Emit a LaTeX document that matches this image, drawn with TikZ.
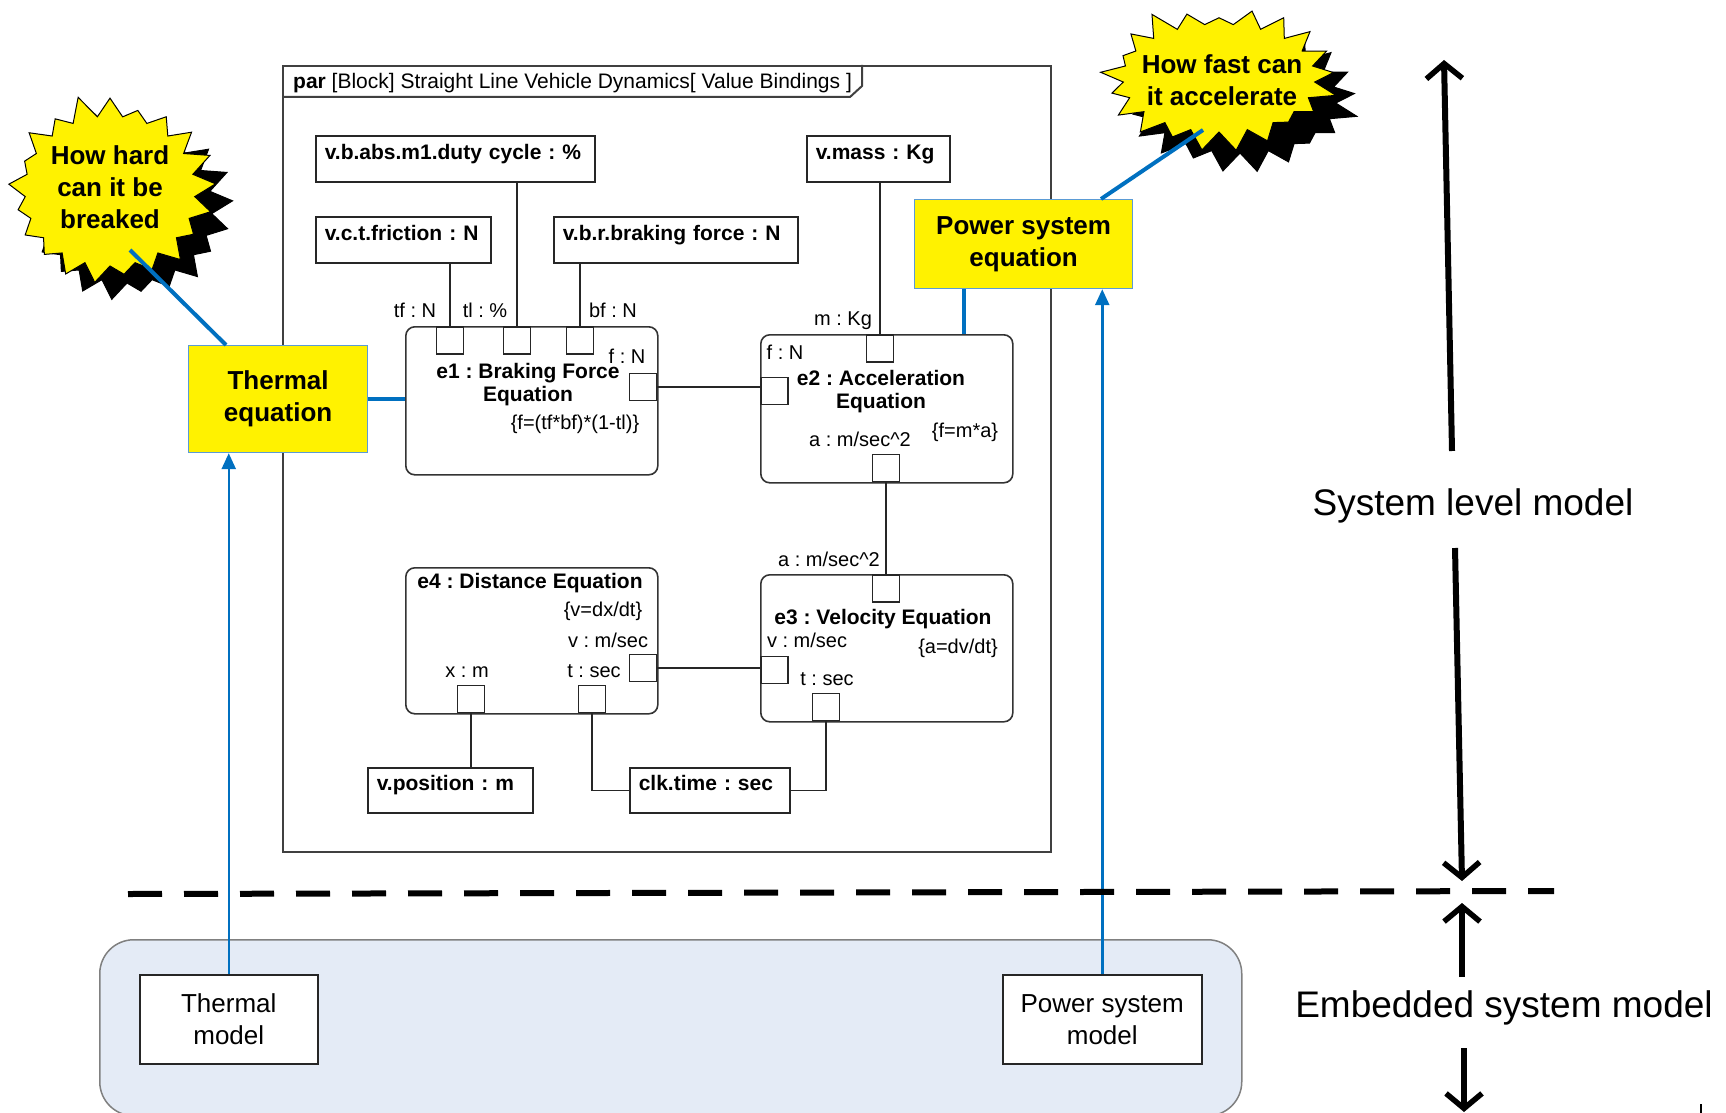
\documentclass[tikz,border=0pt]{standalone}
\usepackage{fontspec}
\setmainfont{Liberation Sans}
\usetikzlibrary{shapes.symbols,arrows.meta,calc}
\frenchspacing

\definecolor{linkblue}{HTML}{0070C0}
\definecolor{edgeblue}{HTML}{5B9BD5}
\definecolor{panelfill}{HTML}{E4EBF6}
\definecolor{framegray}{HTML}{404040}

\newcommand\valfont{\fontsize{21}{23}\selectfont\bfseries}
\newcommand\portfont{\fontsize{20}{22}\selectfont}
\newcommand\calloutfont{\fontsize{26}{32}\selectfont\bfseries}
\newcommand\sidefont{\fontsize{37}{42}\selectfont}

\begin{document}
\begin{tikzpicture}[x=1pt,y=-1pt,
  every node/.style={inner sep=0pt},
  valbox/.style={draw=black!85, line width=1.6pt, fill=white, font=\valfont,
    anchor=north west, inner xsep=9pt, inner ysep=0pt, align=left,
    text height=24pt, text depth=22pt},
  cblock/.style={draw=black!80, line width=1.6pt, rounded corners=9pt, fill=white,
    anchor=north west, minimum width=252pt, minimum height=148pt},
  port/.style={draw=black!85, line width=1.5pt, fill=white, minimum size=27pt},
  plabel/.style={font=\portfont, anchor=mid, yshift=-5pt},
  ctitle/.style={font=\valfont, align=center, yshift=-2pt},
  wire/.style={draw=black!85, line width=1.5pt},
  yellowbox/.style={draw=edgeblue, line width=1.2pt, fill=yellow, font=\calloutfont,
    align=center, anchor=north west},
  burst/.style={starburst, starburst points=21, starburst point height=24pt,
    draw=black, line width=1pt},
  bursttext/.style={font=\calloutfont, align=center},
  bluelink/.style={draw=linkblue, line width=4pt},
  bluearrow/.style={draw=linkblue, line width=2.5pt, -{Triangle[length=16pt,width=14pt]}},
  bigarrow/.style={line width=6pt, -{Straight Barb[length=15pt,width=36pt,line width=5.5pt]}},
  modelbox/.style={draw=black!85, line width=1.5pt, fill=white, anchor=north west,
    font=\fontsize{26}{32}\selectfont, align=center}
]
\useasboundingbox (0,0) rectangle (1726,1113);

% ---------- embedded system panel ----------
\node[draw=black!50, line width=1.5pt, fill=panelfill, rounded corners=34pt,
  anchor=north west, minimum width=1142pt, minimum height=176pt] (panel) at (99,939) {};
\node[modelbox, minimum width=178pt, minimum height=89pt] (thmodel) at (139,974) {Thermal\\model};
\node[modelbox, minimum width=199pt, minimum height=89pt] (pwmodel) at (1002,974) {Power system\\model};

% ---------- parametric frame ----------
\node[draw=framegray, line width=2pt, anchor=north west, minimum width=768pt,
  minimum height=786pt] (frame) at (282,65) {};
\coordinate (tabA) at (282,97);
\coordinate (tabB) at (850,97);
\coordinate (tabC) at (862,86);
\coordinate (tabD) at (862,65);
\draw[draw=framegray, line width=2pt] (tabA) -- (tabB) -- (tabC) -- (tabD);
\node[anchor=base west, font=\fontsize{21}{23}\selectfont] (header) at (293,89)
  {\textbf{par} [Block] Straight Line Vehicle Dynamics[ Value Bindings ]};

% value properties
\node[valbox, text width=261pt] (duty) at (315,135) {v.b.abs.m1.duty cycle : \%};
\node[valbox, text width=125pt] (mass) at (806,135) {v.mass : Kg};
\node[valbox, text width=157pt] (fric) at (315,216) {v.c.t.friction : N};
\node[valbox, text width=226pt] (brake) at (553,216) {v.b.r.braking force : N};
\node[valbox, text width=147pt, text height=23pt] (pos) at (367,767) {v.position : m};
\node[valbox, text width=142pt, text height=23pt] (clk) at (629,767) {clk.time : sec};

% constraint blocks
\node[cblock] (e1) at (405,326) {};
\node[cblock] (e2) at (760,334) {};
\node[cblock, minimum height=146pt] (e4) at (405,567) {};
\node[cblock, minimum height=147pt] (e3) at (760,574) {};

% ports
\node[port, anchor=north] (e1tf) at (450,326) {};
\node[port, anchor=north] (e1tl) at (517,326) {};
\node[port, anchor=north] (e1bf) at (580,326) {};
\node[port, anchor=east]  (e1f)  at (657,387) {};
\node[port, anchor=west]  (e2f)  at (760,391) {};
\node[port, anchor=north] (e2m)  at (880,334) {};
\node[port, anchor=south] (e2a)  at (886,482) {};
\node[port, anchor=north] (e3a)  at (886,574) {};
\node[port, anchor=west]  (e3v)  at (760,670) {};
\node[port, anchor=south] (e3t)  at (826,721) {};
\node[port, anchor=east]  (e4v)  at (657,668) {};
\node[port, anchor=south] (e4x)  at (471,713) {};
\node[port, anchor=south] (e4t)  at (592,713) {};

% bindings
\draw[wire] (e1tf.north) -- (e1tf.north |- fric.south);
\draw[wire] (e1tl.north) -- (e1tl.north |- duty.south);
\draw[wire] (e1bf.north) -- (e1bf.north |- brake.south);
\draw[wire] (e2m.north) -- (e2m.north |- mass.south);
\draw[wire] (e1f.east) -- (e1f.east -| e2f.west);
\draw[wire] (e2a.south) -- (e3a.north);
\draw[wire] (e4v.east) -- (e4v.east -| e3v.west);
\draw[wire] (e4x.south) -- (e4x.south |- pos.north);
\draw[wire] (e4t.south) |- (clk.west);
\draw[wire] (e3t.south) |- (clk.east);

% port labels
\node[plabel] (ltf) at (415,310) {tf : N};
\node[plabel] (ltl) at (485,310) {tl : \%};
\node[plabel] (lbf) at (613,310) {bf : N};
\node[plabel] (le1f) at (627,356) {f : N};
\node[plabel] (lm) at (843,318) {m : Kg};
\node[plabel] (le2f) at (785,352) {f : N};
\node[plabel] (le2a) at (860,439) {a : m/sec\textasciicircum 2};
\node[plabel] (le3a) at (829,559) {a : m/sec\textasciicircum 2};
\node[plabel] (le3v) at (807,640) {v : m/sec};
\node[plabel] (le3t) at (827,678) {t : sec};
\node[plabel] (le4v) at (608,640) {v : m/sec};
\node[plabel] (le4x) at (467,670) {x : m};
\node[plabel] (le4t) at (594,670) {t : sec};

% block titles and constraints
\node[ctitle] (t1) at (528,383) {e1 : Braking Force\\Equation};
\node[ctitle] (t2) at (881,390) {e2 : Acceleration\\Equation};
\node[ctitle, anchor=mid, yshift=-3pt] (t3) at (883,617) {e3 : Velocity Equation};
\node[ctitle, anchor=mid, yshift=-3pt] (t4) at (530,581) {e4 : Distance Equation};
\node[plabel] (c1) at (575,422) {\{f=(tf*bf)*(1-tl)\}};
\node[plabel] (c2) at (965,430) {\{f=m*a\}};
\node[plabel] (c3) at (958,646) {\{a=dv/dt\}};
\node[plabel] (c4) at (603,609) {\{v=dx/dt\}};

% ---------- system level equations ----------
\node[yellowbox, minimum width=179pt, minimum height=107pt] (theq) at (188,345) {Thermal\\equation};
\node[yellowbox, minimum width=218pt, minimum height=89pt] (pweq) at (914,199) {Power system\\equation};
\draw[bluelink] (theq.east) -- (theq.east -| e1.west);
\draw[bluelink] ($(pweq.south west)+(50,0)$) -- ($(e2.north west)+(204,0)$);

% callouts: black shadow burst under a yellow burst
\node[burst, fill=black, random starburst=11, minimum width=218pt, minimum height=198pt]
  (star1sh) at (127,208) {};
\node[burst, fill=yellow, random starburst=11, minimum width=218pt, minimum height=198pt]
  (star1) at (110,191) {};
\node[bursttext] (star1txt) at (110,187) {How hard\\can it be\\breaked};
\node[burst, fill=black, random starburst=23, minimum width=240pt, minimum height=156pt]
  (star2sh) at (1240,99) {};
\node[burst, fill=yellow, random starburst=23, minimum width=240pt, minimum height=156pt]
  (star2) at (1219,78) {};
\node[bursttext] (star2txt) at (1222,80) {How fast can\\it accelerate};
\coordinate (s1tail) at (130,250);
\coordinate (s2tail) at (1203,130);
\draw[bluelink] (s1tail) -- ($(theq.north west)+(38,0)$);
\draw[bluelink] (s2tail) -- ($(pweq.north west)+(187,0)$);

% refinement arrows from the embedded models
\draw[bluearrow] (thmodel.north) -- (thmodel.north |- theq.south);
\draw[bluearrow] (pwmodel.north) -- (pwmodel.north |- pweq.south);

% ---------- level separator and scale ----------
\coordinate (sepL) at (128,894);
\coordinate (sepR) at (1554,891);
\draw[line width=6pt, dash pattern=on 34pt off 22pt] (sepL) -- (sepR);

\node[font=\sidefont, anchor=mid] (syslvl) at (1473,513) {System level model};
\node[font=\sidefont, anchor=mid] (emblvl) at (1504,1015) {Embedded system model};

\coordinate (upA) at (1452,451);
\coordinate (upB) at (1444,60);
\coordinate (dnA) at (1455,548);
\coordinate (dnB) at (1462,881);
\coordinate (up2A) at (1462,977);
\coordinate (up2B) at (1462,903);
\coordinate (dn2A) at (1464,1048);
\coordinate (dn2B) at (1464,1112);
\draw[bigarrow] (upA) -- (upB);
\draw[bigarrow] (dnA) -- (dnB);
\draw[bigarrow] (up2A) -- (up2B);
\draw[bigarrow] (dn2A) -- (dn2B);

\coordinate (tickA) at (1701,1104);
\coordinate (tickB) at (1701,1113);
\draw[line width=2pt] (tickA) -- (tickB);
\end{tikzpicture}
\end{document}
